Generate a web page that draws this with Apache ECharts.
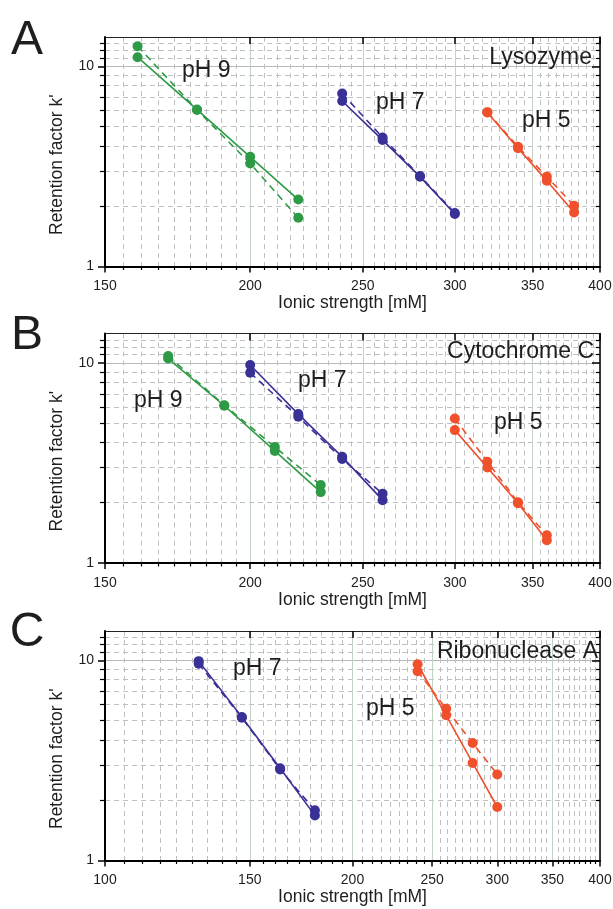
<!DOCTYPE html>
<html><head><meta charset="utf-8">
<script src="https://cdn.jsdelivr.net/npm/echarts@6/dist/echarts.min.js"></script>
<style>html,body{margin:0;padding:0;background:#fff}#c{width:613px;height:909px}</style>
</head><body><div id="c"></div>
<script>
// ---- tick labels ----
const xMajorAB = [150, 200, 250, 300, 350, 400];
const xMajorC = [100, 150, 200, 250, 300, 350, 400];
const yMajor = [1, 10];
const yMinor = [2, 3, 4, 5, 6, 7, 8, 9, 11, 12, 13];
const yMin = 1, yMax = 14;

// ---- Panel A: Lysozyme ----
const lysoX_pH9 = [160, 180, 200, 220];
const lysoK_pH9_solid = [11.1, 6.08, 3.53, 2.16];
const lysoK_pH9_dashed = [12.6, 6.05, 3.27, 1.75];
const lysoX_pH7 = [240, 260, 280, 300];
const lysoK_pH7_solid = [6.71, 4.28, 2.81, 1.83];
const lysoK_pH7_dashed = [7.31, 4.41, 2.83, 1.85];
const lysoX_pH5 = [320, 340, 360, 380];
const lysoK_pH5_solid = [5.88, 3.9, 2.68, 1.86];
const lysoK_pH5_dashed = [5.9, 3.96, 2.81, 2.01];

// ---- Panel B: Cytochrome C ----
const cytoX_pH9 = [170, 190, 210, 230];
const cytoK_pH9_solid = [10.5, 6.1, 3.63, 2.26];
const cytoK_pH9_dashed = [10.8, 6.14, 3.8, 2.45];
const cytoX_pH7 = [200, 220, 240, 260];
const cytoK_pH7_solid = [9.74, 5.54, 3.39, 2.06];
const cytoK_pH7_dashed = [8.91, 5.37, 3.31, 2.22];
const cytoX_pH5 = [300, 320, 340, 360];
const cytoK_pH5_solid = [4.61, 3.0, 1.99, 1.30];
const cytoK_pH5_dashed = [5.27, 3.2, 2.01, 1.375];

// ---- Panel C: Ribonuclease A ----
const ribX_pH7 = [130, 146.7, 163.3, 180];
const ribK_pH7_solid = [9.9, 5.21, 2.89, 1.68];
const ribK_pH7_dashed = [9.6, 5.17, 2.85, 1.78];
const ribX_pH5 = [240, 260, 280, 300];
const ribK_pH5_solid = [9.55, 5.31, 3.07, 1.85];
const ribK_pH5_dashed = [8.81, 5.73, 3.86, 2.69];

const GREEN = '#2f9a45', BLUE = '#3a3197', ORANGE = '#f0502b';
const FONT = '"Liberation Sans", Arial, sans-serif';
const TXT = '#1e1e1e';

const panels = [
  { top: 37, xMajor: xMajorAB, letter: 'A', letterY: 41, name: 'Lysozyme', nameX: 592, nameY: 58,
    groups: [
      { x: lysoX_pH9, s: lysoK_pH9_solid, d: lysoK_pH9_dashed, c: GREEN, label: 'pH 9', lx: 182, ly: 71 },
      { x: lysoX_pH7, s: lysoK_pH7_solid, d: lysoK_pH7_dashed, c: BLUE, label: 'pH 7', lx: 376, ly: 103 },
      { x: lysoX_pH5, s: lysoK_pH5_solid, d: lysoK_pH5_dashed, c: ORANGE, label: 'pH 5', lx: 522, ly: 121 }
    ] },
  { top: 333.5, xMajor: xMajorAB, letter: 'B', letterY: 336, name: 'Cytochrome C', nameX: 594, nameY: 352,
    groups: [
      { x: cytoX_pH9, s: cytoK_pH9_solid, d: cytoK_pH9_dashed, c: GREEN, label: 'pH 9', lx: 134, ly: 401 },
      { x: cytoX_pH7, s: cytoK_pH7_solid, d: cytoK_pH7_dashed, c: BLUE, label: 'pH 7', lx: 298, ly: 381 },
      { x: cytoX_pH5, s: cytoK_pH5_solid, d: cytoK_pH5_dashed, c: ORANGE, label: 'pH 5', lx: 494, ly: 423 }
    ] },
  { top: 631, xMajor: xMajorC, letter: 'C', letterY: 633, name: 'Ribonuclease A', nameX: 598, nameY: 652,
    groups: [
      { x: ribX_pH7, s: ribK_pH7_solid, d: ribK_pH7_dashed, c: BLUE, label: 'pH 7', lx: 233, ly: 669 },
      { x: ribX_pH5, s: ribK_pH5_solid, d: ribK_pH5_dashed, c: ORANGE, label: 'pH 5', lx: 366, ly: 709 }
    ] }
];

const PH = 229.5;
const lg = v => Math.log10(v);
function minorsOf(majors) {
  const out = [];
  for (let i = 0; i < majors.length - 1; i++) {
    const a = majors[i], b = majors[i + 1];
    for (let k = 1; k <= 8; k++) out.push(a + k * (b - a) / 9);
  }
  return out;
}

const grid = [], xAxis = [], yAxis = [], series = [], graphics = [];
panels.forEach((p, g) => {
  grid.push({ left: 105, right: 13, top: p.top, height: PH, outerBoundsMode: 'none', containLabel: false });
  const lo = p.xMajor[0], hi = p.xMajor[p.xMajor.length - 1];
  const xMin = lg(lo), xMax = lg(hi);
  const yMinL = lg(yMin), yMaxL = lg(yMax);
  const xMaj = p.xMajor.map(lg), xMin_ = minorsOf(p.xMajor).map(lg);
  const yMaj = yMajor.map(lg), yMin_ = yMinor.map(lg);
  const base = xAxis.length;
  // data axes (log)
  xAxis.push({ type: 'log', logBase: 10, gridIndex: g, min: lo, max: hi, show: false });
  yAxis.push({ type: 'log', logBase: 10, gridIndex: g, min: yMin, max: yMax, show: false });
  // bottom major
  xAxis.push({ type: 'value', gridIndex: g, position: 'bottom', min: xMin, max: xMax,
    axisLine: { show: true, onZero: false, lineStyle: { color: '#000', width: 2 } },
    axisTick: { show: true, inside: false, length: 6, customValues: xMaj, lineStyle: { color: '#000', width: 1.5 } },
    axisLabel: { show: true, customValues: xMaj, margin: 13, fontSize: 14, fontFamily: FONT, color: TXT,
      formatter: v => String(Math.round(Math.pow(10, v))) },
    splitLine: { show: true, lineStyle: { color: '#c3d2c3', width: 1, type: 'solid' } },
    name: 'Ionic strength [mM]', nameLocation: 'middle', nameGap: 28,
    nameTextStyle: { fontSize: 17.5, fontFamily: FONT, color: TXT } });
  // bottom minor
  xAxis.push({ type: 'value', gridIndex: g, position: 'bottom', min: xMin, max: xMax,
    axisLine: { show: false, onZero: false },
    axisTick: { show: true, inside: false, length: 3.5, customValues: xMin_, lineStyle: { color: '#000', width: 1.2 } },
    axisLabel: { show: false },
    splitLine: { show: true, lineStyle: { color: '#c0c0c0', width: 1, type: [5, 4] } } });
  // top major
  xAxis.push({ type: 'value', gridIndex: g, position: 'top', min: xMin, max: xMax,
    axisLine: { show: true, onZero: false, lineStyle: { color: '#222', width: 1 } },
    axisTick: { show: true, inside: true, length: 7, customValues: xMaj, lineStyle: { color: '#000', width: 1.5 } },
    axisLabel: { show: false }, splitLine: { show: false } });
  // left major
  yAxis.push({ type: 'value', gridIndex: g, position: 'left', min: yMinL, max: yMaxL,
    axisLine: { show: true, onZero: false, lineStyle: { color: '#000', width: 2 } },
    axisTick: { show: true, inside: false, length: 7, customValues: yMaj, lineStyle: { color: '#000', width: 1.5 } },
    axisLabel: { show: true, customValues: yMaj, margin: 11, fontSize: 14, fontFamily: FONT, color: TXT,
      formatter: v => String(Math.round(Math.pow(10, v))) },
    splitLine: { show: true, lineStyle: { color: '#b8b8b8', width: 1, type: 'solid' } } });
  // left minor
  yAxis.push({ type: 'value', gridIndex: g, position: 'left', min: yMinL, max: yMaxL,
    axisLine: { show: false, onZero: false },
    axisTick: { show: true, inside: false, length: 5, customValues: yMin_, lineStyle: { color: '#000', width: 1.2 } },
    axisLabel: { show: false },
    splitLine: { show: true, lineStyle: { color: '#c0c0c0', width: 1, type: [5, 4] } } });
  // right major
  yAxis.push({ type: 'value', gridIndex: g, position: 'right', min: yMinL, max: yMaxL,
    axisLine: { show: true, onZero: false, lineStyle: { color: '#000', width: 1.5 } },
    axisTick: { show: true, inside: true, length: 8, customValues: yMaj, lineStyle: { color: '#000', width: 1.5 } },
    axisLabel: { show: false }, splitLine: { show: false } });
  // right minor
  yAxis.push({ type: 'value', gridIndex: g, position: 'right', min: yMinL, max: yMaxL,
    axisLine: { show: false, onZero: false },
    axisTick: { show: true, inside: true, length: 4, customValues: yMin_, lineStyle: { color: '#000', width: 1.2 } },
    axisLabel: { show: false }, splitLine: { show: false } });

  const xi = base, yi = g * 5;
  p.groups.forEach(gr => {
    const mk = (vals, dashed) => ({
      type: 'line', xAxisIndex: xi, yAxisIndex: yi,
      data: gr.x.map((x, i) => [x, vals[i]]),
      symbol: 'circle', symbolSize: 10, showSymbol: true,
      itemStyle: { color: gr.c },
      lineStyle: { color: gr.c, width: 1.6, type: dashed ? [7, 5] : 'solid' },
      z: dashed ? 3 : 4, animation: false, silent: true
    });
    series.push(mk(gr.d, true));
    series.push(mk(gr.s, false));
    graphics.push({ type: 'text', x: gr.lx, y: gr.ly, z: 10,
      style: { text: gr.label, fontSize: 23, fontFamily: FONT, fill: TXT, align: 'left', verticalAlign: 'middle' } });
  });
  graphics.push({ type: 'text', x: p.nameX, y: p.nameY, z: 10,
    style: { text: p.name, fontSize: 23, fontFamily: FONT, fill: TXT, align: 'right', verticalAlign: 'middle' } });
  graphics.push({ type: 'text', x: 27, y: p.letterY, z: 10,
    style: { text: p.letter, fontSize: 48, fontFamily: FONT, fill: TXT, align: 'center', verticalAlign: 'middle' } });
  graphics.push({ type: 'text', x: 57, y: p.top + PH / 2 + 13, rotation: Math.PI / 2, z: 10,
    style: { text: "Retention factor k'", fontSize: 17.5, fontFamily: FONT, fill: TXT, align: 'center', verticalAlign: 'middle' } });
});

const chart = echarts.init(document.getElementById('c'), null, { renderer: 'canvas' });
chart.setOption({
  animation: false,
  backgroundColor: '#fff',
  grid, xAxis, yAxis, series,
  graphic: { elements: graphics }
});
</script></body></html>
